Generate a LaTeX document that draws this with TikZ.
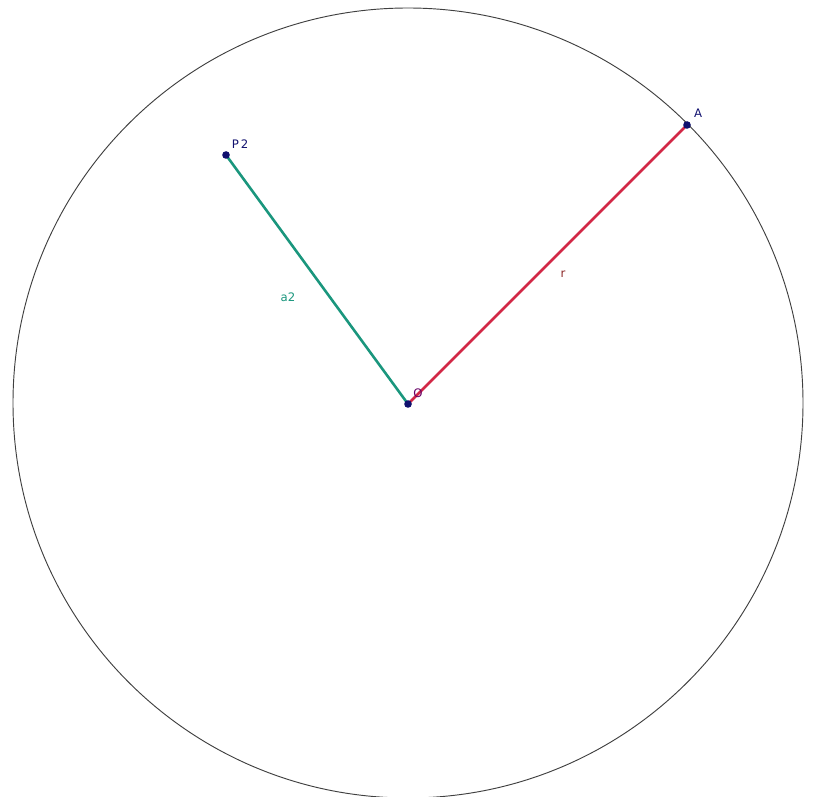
\documentclass[tikz,border=0pt]{standalone}
\usepackage{fontspec}
\setmainfont{DejaVu Sans}
\usepackage{xcolor}
\usetikzlibrary{arrows.meta,positioning,calc}

\definecolor{ptblue}{RGB}{16,16,110}
\definecolor{segteal}{RGB}{26,150,125}
\definecolor{segred}{RGB}{210,40,70}
\definecolor{labred}{RGB}{140,40,40}

\begin{document}
\begin{tikzpicture}[
  x=0.03cm,y=-0.03cm,
  pt/.style={circle,fill=ptblue,inner sep=0pt,minimum size=6.5pt},
  seg/.style={line width=2.2pt},
  lab/.style={font=\fontsize{10}{12}\selectfont,inner sep=0pt},
  every node/.style={font=\small}
]
  \useasboundingbox (0,0) rectangle (814,797);
  \coordinate (centre) at (408,403);
  \draw[line width=0.8pt,black!75] (centre) circle[radius=395*0.03cm];

  \coordinate (O) at (408,404);
  \coordinate (A) at (687,125);
  \coordinate (P2) at (226,155);

  \draw[seg,segteal] (P2) -- (O);
  \draw[seg,segred] (O) -- (A);

  \node[pt] (O-pt) at (O) {};
  \node[pt] (A-pt) at (A) {};
  \node[pt] (P2-pt) at (P2) {};

  \node[lab,text=ptblue] (A-lab) at (698,113) {A};
  \node[lab,text=ptblue] (P2-lab) at (240,144) {P\,2};
  \node[lab,text=violet!80!black] (O-lab) at (418,393) {O};
  \node[lab,text=segteal] (a2-lab) at (288,297) {a2};
  \node[lab,text=labred] (r-lab) at (563,274) {r};
\end{tikzpicture}
\end{document}
